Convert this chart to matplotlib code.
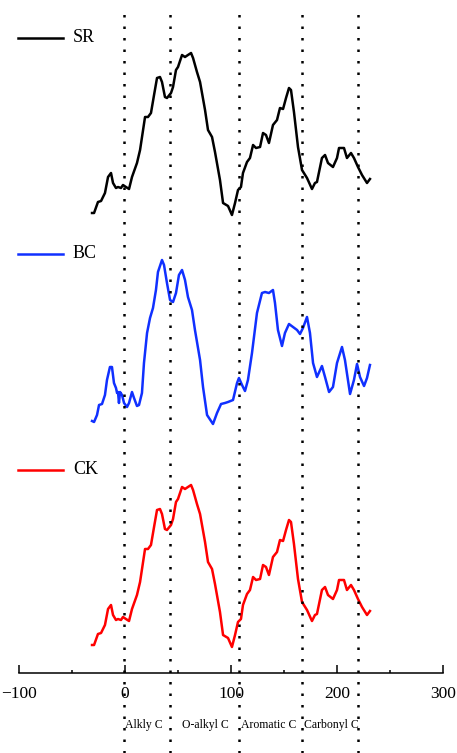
import matplotlib
matplotlib.use("Agg")
import matplotlib.pyplot as plt
from matplotlib.lines import Line2D

plt.rcParams['font.family'] = ['Liberation Serif', 'DejaVu Serif']

# chemical shift (ppm) and relative intensity
sr_x = [-31.1, -29.2, -25.5, -22.6, -18.9, -16.0, -13.2, -11.3, -8.5, -6.6,
        -3.8, -1.9, 0.9, 3.8, 6.6, 11.3, 14.2, 18.9, 21.7, 24.5,
        27.4, 30.2, 33.0, 34.9, 37.7, 39.6, 43.4, 45.3, 48.1, 50.0,
        53.8, 56.6, 59.4, 62.3, 64.2, 67.9, 70.8, 75.5, 78.3, 82.1,
        84.9, 89.6, 92.5, 97.2, 100.9, 103.8, 106.6, 109.4, 111.3, 115.1,
        117.9, 120.8, 123.6, 127.4, 130.2, 133.0, 135.8, 139.6, 143.4, 146.2,
        149.1, 151.9, 154.7, 156.6, 159.4, 163.2, 167.0, 171.7, 176.4, 179.2,
        181.1, 185.8, 188.7, 191.5, 196.2, 200.0, 201.9, 206.6, 209.4, 213.2,
        216.0, 219.8, 223.6, 228.3, 231.1]
sr_y = [2, 2, 13, 14, 22, 38, 42, 32, 27, 28,
        27, 30, 28, 26, 38, 52, 65, 98, 98, 102,
        120, 137, 138, 133, 118, 117, 122, 128, 145, 148,
        160, 158, 160, 162, 157, 143, 133, 105, 85, 78,
        63, 35, 12, 9, 0, 12, 25, 28, 42, 53,
        57, 70, 67, 68, 82, 80, 72, 90, 95, 107,
        106, 117, 127, 125, 103, 68, 45, 37, 26, 32,
        33, 57, 60, 52, 48, 57, 67, 67, 57, 62,
        57, 48, 40, 32, 36]

bc_x = [-31.1, -29.2, -26.4, -24.5, -21.7, -18.9, -17.0, -14.2, -12.3, -10.4,
        -8.5, -7.5, -6.6, -5.7, -4.7, -2.8, -0.9, 1.9, 3.8, 6.6,
        8.5, 11.3, 13.2, 16.0, 17.9, 20.8, 23.6, 26.4, 29.2, 31.1,
        34.9, 36.8, 39.6, 42.5, 45.3, 48.1, 50.9, 53.8, 56.6, 59.4,
        63.2, 66.0, 70.8, 73.6, 77.4, 83.0, 86.8, 90.6, 94.3, 97.2,
        101.9, 105.7, 107.5, 110.4, 113.2, 116.0, 119.8, 124.5, 129.2, 132.1,
        135.8, 139.6, 141.5, 144.3, 148.1, 150.9, 154.7, 158.5, 162.3, 165.1,
        167.9, 171.7, 174.5, 177.4, 181.1, 185.8, 188.7, 192.5, 196.2, 200.0,
        204.7, 207.5, 212.3, 216.0, 218.9, 221.7, 225.5, 228.3, 231.1]
bc_y = [4, 3, 10, 20, 21, 30, 45, 58, 58, 42,
        37, 32, 33, 22, 33, 30, 22, 18, 22, 33,
        27, 19, 20, 32, 62, 92, 107, 117, 135, 153,
        165, 160, 142, 125, 123, 132, 150, 155, 145, 128,
        115, 95, 65, 38, 10, 1, 12, 21, 22, 23,
        25, 42, 47, 40, 34, 45, 72, 112, 132, 133,
        132, 135, 122, 95, 79, 92, 101, 98, 95, 91,
        97, 108, 92, 62, 48, 59, 48, 33, 38, 62,
        78, 65, 31, 45, 61, 48, 39, 47, 60]

ck_x = list(sr_x)
ck_y = [2, 2, 13, 14, 22, 38, 42, 32, 27, 28,
        27, 30, 28, 26, 38, 52, 65, 98, 98, 102,
        120, 137, 138, 133, 118, 117, 122, 128, 145, 148,
        160, 158, 160, 162, 157, 143, 133, 105, 85, 78,
        63, 35, 12, 9, 0, 12, 25, 28, 42, 53,
        57, 70, 67, 68, 82, 80, 72, 90, 95, 107,
        106, 117, 127, 125, 103, 68, 45, 37, 26, 32,
        33, 57, 60, 52, 48, 57, 67, 67, 57, 62,
        57, 48, 40, 32, 36]

names = ["SR", "BC", "CK"]
colors = ["black", "#1030ff", "#ff0000"]
offsets = [538, 328, 106]

region_edges = [-0.9, 42.5, 107.5, 167.0, 220.0]
region_names = ["Alkly C", "O-alkyl C", "Aromatic C", "Carbonyl C"]
region_pos = [17.9, 75.5, 135.8, 194.3]

W, H = 457, 753
fig = plt.figure(figsize=(W / 100, H / 100), dpi=100)
ax = fig.add_axes([19 / W, 0, 424 / W, 1])
ax.set_xlim(-100, 300)
ax.set_ylim(0, H)

series = [(sr_x, sr_y), (bc_x, bc_y), (ck_x, ck_y)]
for (xs, ys), c, off in zip(series, colors, offsets):
    ax.plot(xs, [v + off for v in ys], color=c, lw=1.8, solid_joinstyle='round')

# label lines with names at the left
for name, c, py in zip(names, colors, [38, 254, 470]):
    fig.add_artist(Line2D([18 / W, 63 / W], [1 - py / H, 1 - py / H],
                          color=c, lw=1.8, transform=fig.transFigure))
    fig.text(73 / W, 1 - py / H, name, fontsize=13, va='center', ha='left')

for e in region_edges:
    ax.axvline(e, ymin=0, ymax=0.992, color='black', lw=1.8,
               linestyle=(0, (1, 3.6)))

for name, p in zip(region_names, region_pos):
    ax.text(p, 28, name, fontsize=8.5, ha='center', va='center')

for s in ['left', 'right', 'top']:
    ax.spines[s].set_visible(False)
ax.spines['bottom'].set_position(('data', 80))
ax.spines['bottom'].set_linewidth(1.1)
ax.set_yticks([])
ax.set_xticks([-100, 0, 100, 200, 300])
ax.set_xticks([-50, 50, 150, 250], minor=True)
ax.tick_params(axis='x', which='major', direction='in', length=6, width=1.1,
               labelsize=12.5, pad=9)
ax.tick_params(axis='x', which='minor', direction='in', length=2.5, width=1.1)

fig.savefig("out.png", dpi=100)
